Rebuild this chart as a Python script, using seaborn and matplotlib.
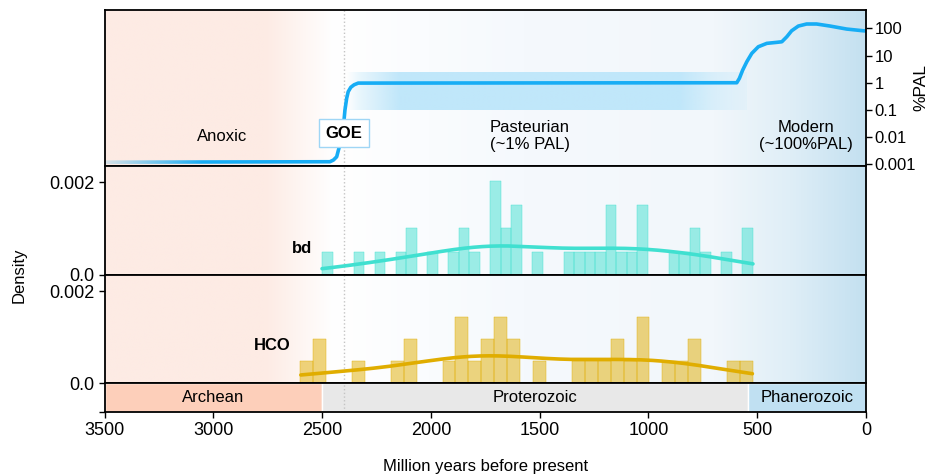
import numpy as np
import matplotlib
matplotlib.use("Agg")
import matplotlib.pyplot as plt
import seaborn as sns
from matplotlib.colors import to_rgb
from matplotlib.ticker import NullLocator

# atmospheric O2 through time (million years ago, %PAL)
o2_age = [3500, 2464, 2448, 2433, 2421, 2410, 2402, 2395, 2387, 2380, 2368, 2353, 2334,
          594, 582, 567, 548, 525, 495, 456, 410, 387, 364, 342, 311, 273, 227, 165, 89, 12, 0]
o2_pal = [0.0012, 0.00125, 0.00144, 0.0019, 0.0044, 0.0103, 0.024, 0.099, 0.27, 0.47, 0.68, 0.84, 0.97,
          1.0, 1.45, 2.9, 5.9, 12, 21, 28, 30.5, 32, 49, 81, 121, 144, 144, 121, 94, 81, 80]

# histogram counts per bin, oldest bin first
bd_range = (2500, 520)
bd_counts = [1, 0, 0, 1, 0, 1, 0, 1, 2, 0, 1, 0, 1, 2, 1, 0, 4, 2, 3, 0, 1,
             0, 0, 1, 1, 1, 1, 3, 1, 1, 3, 0, 0, 1, 1, 2, 1, 0, 1, 0, 2]
hco_range = (2600, 520)
hco_counts = [1, 2, 0, 0, 1, 0, 0, 1, 2, 0, 0, 1, 3, 1, 2, 3, 2, 0,
              1, 0, 0, 1, 1, 1, 2, 1, 3, 0, 1, 1, 2, 0, 0, 1, 1]

era_names = ["Archean", "Proterozoic", "Phanerozoic"]
era_start = [3500, 2500, 541]
era_end = [2500, 541, 0]
era_colors = ["#fdcfba", "#e8e8e8", "#c0e0f2"]

o2_stages = ["Anoxic", "Pasteurian\n(~1% PAL)", "Modern\n(~100%PAL)"]
o2_stage_age = [2960, 1545, 275]

pal_ticks = [0.001, 0.01, 0.1, 1, 10, 100]
pal_labels = ["0.001", "0.01", "0.1", "1", "10", "100"]

sns.set_style("ticks")
plt.rcParams["font.family"] = ["Liberation Sans", "DejaVu Sans"]
plt.rcParams["axes.linewidth"] = 1.3
plt.rcParams["axes.edgecolor"] = "black"
plt.rcParams["xtick.color"] = "black"
plt.rcParams["ytick.color"] = "black"
plt.rcParams["text.color"] = "black"
plt.rcParams["axes.labelcolor"] = "black"

bg_stops = [(0.0, "#fdebe4"), (0.21, "#fdebe4"), (0.30, "#ffffff"),
            (0.55, "#f5f9fd"), (0.80, "#f2f7fb"), (0.90, "#dfeef7"), (1.0, "#c3e0f0")]


def gradient_row(stops, n=700):
    pos = np.linspace(0, 1, n)
    fr = [s[0] for s in stops]
    cols = np.array([to_rgb(s[1]) for s in stops])
    return np.stack([np.interp(pos, fr, cols[:, k]) for k in range(3)], axis=-1)[None, :, :]


def add_background(ax):
    ax.imshow(gradient_row(bg_stops), extent=[0, 1, 0, 1], transform=ax.transAxes,
              aspect="auto", zorder=0, interpolation="bilinear")


fig = plt.figure(figsize=(9.3, 4.75), dpi=100)
L, W = 0.1124, 0.8188
ax_o2 = fig.add_axes([L, 0.6505, W, 0.3284])
ax_bd = fig.add_axes([L, 0.4211, W, 0.2295], sharex=ax_o2)
ax_hco = fig.add_axes([L, 0.1931, W, 0.228], sharex=ax_o2)
ax_era = fig.add_axes([L, 0.1326, W, 0.0605], sharex=ax_o2)

# ---- top panel: O2 curve
add_background(ax_o2)
ax_o2.set_yscale("log")

# pale band around the Pasteurian plateau
band_x = np.linspace(2392, 548, 400)
band_alpha = np.interp(band_x[::-1], [548, 700, 860, 2150, 2330, 2392],
                       [0.15, 0.5, 1.0, 1.0, 0.35, 0.0])[::-1]
band = np.zeros((1, band_x.size, 4))
band[..., :3] = to_rgb("#c0e7fa")
band[..., 3] = band_alpha
ax_o2.imshow(band, extent=[2392, 548, 0.1, 2.7], aspect="auto", zorder=1,
             interpolation="bilinear")

sns.lineplot(x=o2_age, y=o2_pal, ax=ax_o2, color="#17adf5", lw=2.6, zorder=2)

# fade the start of the line into the background
fade = np.zeros((1, 200, 4))
fade[..., :3] = to_rgb("#fdebe4")
fade[..., 3] = np.linspace(0.85, 0.0, 200)
ax_o2.imshow(fade, extent=[3500, 3050, 0.0009, 0.0017], aspect="auto", zorder=2.1,
             interpolation="bilinear")

for name, age in zip(o2_stages, o2_stage_age):
    ax_o2.text(age, 0.011, name, ha="center", va="center", fontsize=12)
ax_o2.text(2400, 0.014, "GOE", ha="center", va="center", fontsize=12, fontweight="bold",
           bbox=dict(boxstyle="square,pad=0.4", fc="white", ec="#9fd6f5", lw=1), zorder=3)

ax_o2.yaxis.tick_right()
ax_o2.set_yticks(pal_ticks)
ax_o2.set_yticklabels(pal_labels)
ax_o2.yaxis.set_minor_locator(NullLocator())
ax_o2.tick_params(axis="y", labelsize=12, length=4, width=1, pad=2)
ax_o2.tick_params(axis="x", bottom=False, labelbottom=False)
ax_o2.set_ylim(0.00087, 470)
fig.text(0.99, 0.815, "%PAL", rotation=90, ha="center", va="center", fontsize=12.5)

# ---- histograms
def hist_panel(ax, counts, rng, color, label, label_y):
    add_background(ax)
    edges = np.linspace(rng[0], rng[1], len(counts) + 1)
    centers = (edges[:-1] + edges[1:]) / 2
    ages = np.repeat(centers, counts)
    sns.histplot(x=ages, bins=edges[::-1], stat="density", kde=True, ax=ax,
                 color=color, alpha=0.5, edgecolor=color, linewidth=0.3,
                 kde_kws={"cut": 0.1, "bw_adjust": 1.0}, line_kws={"lw": 2.6},
                 zorder=2)
    ax.text(rng[0] + 45, label_y, label, ha="right", va="center",
            fontsize=12, fontweight="bold")
    ax.set_ylim(0, 0.00235)
    ax.set_yticks([0, 0.002])
    ax.set_yticklabels(["0.0", "0.002"])
    ax.set_ylabel("")
    ax.tick_params(axis="y", labelsize=13, length=4, width=1)
    ax.tick_params(axis="x", bottom=False, labelbottom=False)


hist_panel(ax_bd, bd_counts, bd_range, "turquoise", "bd", 0.00057)
hist_panel(ax_hco, hco_counts, hco_range, "#e0ad00", "HCO", 0.00083)

# ---- geological eras
ax_era.barh(0.5, width=np.subtract(era_start, era_end), left=era_end, height=1,
            color=era_colors, zorder=0)
for name, s, e in zip(era_names, era_start, era_end):
    ax_era.text((s + e) / 2, 0.5, name, ha="center", va="center", fontsize=12)
ax_era.set_ylim(0, 1)
ax_era.set_yticks([0])
ax_era.set_yticklabels([""])
ax_era.set_xticks(np.arange(0, 3501, 500))
ax_era.tick_params(axis="both", labelsize=13, length=4, width=1)
ax_era.set_xlabel("Million years before present", fontsize=12, labelpad=14)

for ax in (ax_o2, ax_bd, ax_hco, ax_era):
    ax.axvline(2400, color="#c4c4c4", ls=":", lw=1, zorder=1.5)
    for sp in ax.spines.values():
        sp.set_visible(True)
        sp.set_zorder(5)
ax_o2.set_xlim(3500, 0)

fig.text(0.021, 0.42, "Density", rotation=90, ha="center", va="center", fontsize=12)

fig.savefig("out.png", dpi=100)
